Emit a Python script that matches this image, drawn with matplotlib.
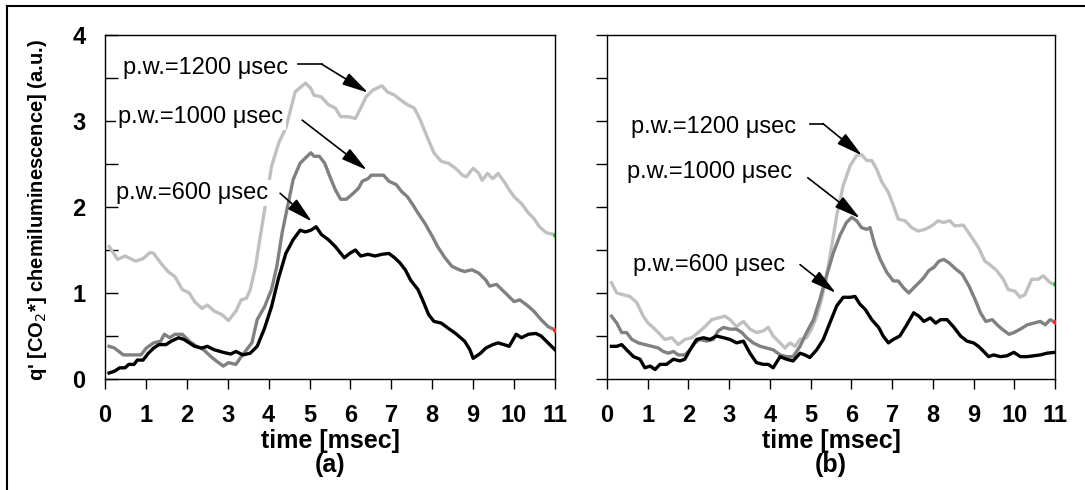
import matplotlib
matplotlib.use("Agg")
import matplotlib.pyplot as plt
from matplotlib.lines import Line2D
from matplotlib.ticker import MultipleLocator

plt.rcParams["font.family"] = ["Liberation Sans", "DejaVu Sans"]

# ---- data: time [msec] vs q' [CO2*] (a.u.) ----
# panel (a)
a_t_1200 = [0.1, 0.31, 0.49, 0.75, 0.93, 1.1, 1.19, 1.36, 1.54, 1.71, 1.89, 2.06, 2.19, 2.37, 2.5,
            2.67, 2.85, 3.02, 3.2, 3.33, 3.46, 3.55, 3.68, 3.81, 3.94, 4.07, 4.25, 4.42, 4.65, 4.9,
            5.03, 5.11, 5.29, 5.46, 5.63, 5.76, 5.94, 6.12, 6.25, 6.38, 6.55, 6.77, 6.9, 7.08, 7.21,
            7.39, 7.56, 7.69, 7.87, 8.04, 8.22, 8.39, 8.57, 8.74, 8.83, 9.0, 9.14, 9.22, 9.35, 9.48,
            9.61, 9.75, 9.88, 10.0, 10.18, 10.35, 10.48, 10.62, 10.79, 11.0]
a_q_1200 = [1.54, 1.39, 1.43, 1.37, 1.40, 1.47, 1.46, 1.35, 1.25, 1.19, 1.04, 1.0, 0.90, 0.82, 0.86,
            0.79, 0.75, 0.68, 0.79, 0.92, 0.94, 1.04, 1.31, 1.70, 2.08, 2.47, 2.75, 2.92, 3.34, 3.44,
            3.38, 3.30, 3.28, 3.19, 3.15, 3.05, 3.05, 3.03, 3.15, 3.28, 3.36, 3.41, 3.34, 3.30, 3.25,
            3.19, 3.15, 3.03, 2.82, 2.63, 2.53, 2.51, 2.45, 2.37, 2.35, 2.45, 2.39, 2.31, 2.39, 2.33,
            2.39, 2.30, 2.20, 2.12, 2.04, 1.93, 1.87, 1.77, 1.70, 1.68]

a_t_1000 = [0.1, 0.23, 0.45, 0.71, 0.88, 1.01, 1.19, 1.36, 1.45, 1.58, 1.71, 1.89, 2.06, 2.24, 2.41,
            2.59, 2.72, 2.89, 3.02, 3.2, 3.33, 3.46, 3.59, 3.72, 3.90, 4.07, 4.2, 4.33, 4.46, 4.6,
            4.77, 4.9, 5.03, 5.11, 5.24, 5.37, 5.5, 5.63, 5.76, 5.9, 6.07, 6.2, 6.29, 6.43, 6.51,
            6.64, 6.81, 6.94, 7.12, 7.25, 7.39, 7.52, 7.65, 7.82, 8.0, 8.13, 8.31, 8.48, 8.66, 8.79,
            8.97, 9.14, 9.31, 9.4, 9.57, 9.7, 9.83, 10.0, 10.14, 10.31, 10.48, 10.66, 10.83, 11.0]
a_q_1000 = [0.38, 0.36, 0.28, 0.28, 0.28, 0.36, 0.42, 0.44, 0.52, 0.48, 0.52, 0.52, 0.44, 0.38, 0.34,
            0.26, 0.21, 0.15, 0.19, 0.17, 0.26, 0.34, 0.42, 0.69, 0.84, 1.04, 1.31, 1.70, 2.0, 2.32,
            2.51, 2.57, 2.63, 2.59, 2.59, 2.51, 2.35, 2.20, 2.09, 2.09, 2.16, 2.22, 2.30, 2.33, 2.37,
            2.37, 2.37, 2.30, 2.26, 2.18, 2.12, 2.03, 1.93, 1.81, 1.66, 1.54, 1.41, 1.31, 1.27, 1.25,
            1.27, 1.23, 1.15, 1.08, 1.10, 1.04, 0.98, 0.90, 0.92, 0.86, 0.79, 0.69, 0.61, 0.57]

a_t_600 = [0.1, 0.23, 0.36, 0.49, 0.58, 0.71, 0.79, 0.93, 1.06, 1.19, 1.32, 1.49, 1.62, 1.80, 1.93,
           2.06, 2.19, 2.37, 2.5, 2.67, 2.89, 3.07, 3.2, 3.37, 3.55, 3.72, 3.90, 4.07, 4.24, 4.42,
           4.6, 4.77, 4.9, 5.03, 5.16, 5.29, 5.46, 5.63, 5.85, 5.98, 6.12, 6.25, 6.43, 6.6, 6.77,
           6.94, 7.08, 7.21, 7.34, 7.47, 7.65, 7.78, 7.91, 8.04, 8.22, 8.39, 8.57, 8.79, 8.92, 9.0,
           9.18, 9.31, 9.48, 9.61, 9.75, 9.88, 10.05, 10.18, 10.35, 10.53, 10.66, 10.83, 11.0]
a_q_600 = [0.07, 0.09, 0.13, 0.13, 0.17, 0.17, 0.22, 0.22, 0.30, 0.36, 0.40, 0.40, 0.44, 0.48, 0.46,
           0.42, 0.38, 0.36, 0.38, 0.34, 0.31, 0.29, 0.32, 0.28, 0.30, 0.38, 0.59, 0.84, 1.17, 1.46,
           1.62, 1.73, 1.71, 1.73, 1.77, 1.68, 1.62, 1.54, 1.41, 1.46, 1.50, 1.43, 1.45, 1.43, 1.45,
           1.46, 1.41, 1.35, 1.27, 1.15, 1.04, 0.90, 0.75, 0.67, 0.65, 0.59, 0.53, 0.44, 0.34, 0.24,
           0.30, 0.36, 0.40, 0.42, 0.40, 0.38, 0.52, 0.48, 0.52, 0.53, 0.50, 0.42, 0.34]

# panel (b)
b_t_1200 = [0.11, 0.24, 0.40, 0.56, 0.73, 0.89, 1.01, 1.13, 1.30, 1.42, 1.59, 1.75, 1.91, 2.08, 2.24,
            2.41, 2.57, 2.73, 2.90, 3.02, 3.18, 3.35, 3.51, 3.67, 3.84, 3.96, 4.08, 4.25, 4.37, 4.49,
            4.62, 4.74, 4.90, 5.02, 5.15, 5.27, 5.39, 5.52, 5.64, 5.80, 5.97, 6.13, 6.25, 6.38, 6.50,
            6.62, 6.75, 6.91, 7.03, 7.15, 7.32, 7.48, 7.64, 7.81, 7.97, 8.13, 8.26, 8.42, 8.54, 8.75,
            8.91, 9.12, 9.28, 9.40, 9.57, 9.73, 9.85, 10.02, 10.14, 10.26, 10.43, 10.59, 10.71, 10.88, 11.0]
b_q_1200 = [1.12, 1.0, 0.98, 0.96, 0.89, 0.73, 0.65, 0.60, 0.52, 0.46, 0.48, 0.40, 0.46, 0.48, 0.54,
            0.61, 0.69, 0.71, 0.73, 0.69, 0.61, 0.67, 0.58, 0.54, 0.56, 0.60, 0.50, 0.42, 0.36, 0.42,
            0.38, 0.46, 0.48, 0.58, 0.73, 0.93, 1.20, 1.55, 1.90, 2.25, 2.48, 2.60, 2.61, 2.54, 2.54,
            2.44, 2.29, 2.17, 2.02, 1.86, 1.84, 1.76, 1.72, 1.74, 1.78, 1.84, 1.82, 1.84, 1.78, 1.79,
            1.68, 1.53, 1.37, 1.33, 1.26, 1.16, 1.04, 1.02, 0.95, 0.98, 1.16, 1.16, 1.20, 1.12, 1.10]

b_t_1000 = [0.11, 0.24, 0.36, 0.48, 0.61, 0.77, 0.93, 1.10, 1.26, 1.38, 1.51, 1.63, 1.75, 1.91, 2.04,
            2.16, 2.28, 2.45, 2.61, 2.73, 2.86, 3.02, 3.18, 3.31, 3.43, 3.59, 3.76, 3.92, 4.08, 4.25,
            4.41, 4.57, 4.74, 4.90, 5.07, 5.23, 5.39, 5.56, 5.72, 5.88, 6.01, 6.13, 6.25, 6.38, 6.46,
            6.58, 6.71, 6.87, 7.03, 7.15, 7.28, 7.41, 7.53, 7.66, 7.78, 7.90, 8.03, 8.15, 8.27, 8.40,
            8.56, 8.72, 8.89, 9.05, 9.17, 9.30, 9.46, 9.58, 9.70, 9.87, 9.99, 10.15, 10.32, 10.48, 10.64,
            10.76, 10.88, 11.0]
b_q_1000 = [0.73, 0.65, 0.54, 0.54, 0.46, 0.42, 0.40, 0.38, 0.36, 0.32, 0.30, 0.32, 0.28, 0.28, 0.34,
            0.42, 0.46, 0.44, 0.46, 0.56, 0.60, 0.58, 0.58, 0.54, 0.48, 0.42, 0.38, 0.36, 0.34, 0.28,
            0.26, 0.26, 0.38, 0.54, 0.69, 0.93, 1.20, 1.47, 1.67, 1.82, 1.88, 1.84, 1.76, 1.74, 1.76,
            1.55, 1.39, 1.24, 1.14, 1.14, 1.06, 1.00, 1.06, 1.12, 1.18, 1.26, 1.30, 1.37, 1.39, 1.35,
            1.28, 1.22, 1.08, 0.91, 0.77, 0.67, 0.69, 0.63, 0.58, 0.52, 0.54, 0.58, 0.63, 0.65, 0.67,
            0.63, 0.69, 0.66]

b_t_600 = [0.11, 0.24, 0.36, 0.48, 0.65, 0.81, 0.93, 1.06, 1.18, 1.30, 1.46, 1.63, 1.79, 1.91, 2.04,
           2.20, 2.37, 2.53, 2.69, 2.86, 3.02, 3.18, 3.35, 3.51, 3.67, 3.84, 3.96, 4.08, 4.25, 4.41,
           4.57, 4.74, 4.86, 4.98, 5.15, 5.31, 5.47, 5.64, 5.80, 5.97, 6.09, 6.21, 6.34, 6.50, 6.67,
           6.78, 6.91, 7.03, 7.19, 7.36, 7.53, 7.66, 7.78, 7.94, 8.07, 8.19, 8.35, 8.52, 8.68, 8.84,
           9.00, 9.12, 9.25, 9.37, 9.49, 9.66, 9.82, 9.99, 10.15, 10.32, 10.48, 10.64, 10.80, 11.0]
b_q_600 = [0.38, 0.38, 0.40, 0.34, 0.26, 0.23, 0.13, 0.15, 0.11, 0.17, 0.17, 0.23, 0.21, 0.23, 0.34,
           0.46, 0.48, 0.46, 0.50, 0.48, 0.46, 0.42, 0.44, 0.30, 0.19, 0.17, 0.17, 0.13, 0.26, 0.23,
           0.21, 0.30, 0.28, 0.25, 0.34, 0.46, 0.65, 0.85, 0.95, 0.95, 0.96, 0.87, 0.81, 0.69, 0.60,
           0.50, 0.42, 0.46, 0.50, 0.63, 0.77, 0.73, 0.67, 0.71, 0.65, 0.69, 0.69, 0.60, 0.50, 0.44,
           0.42, 0.38, 0.32, 0.26, 0.28, 0.26, 0.27, 0.31, 0.26, 0.26, 0.27, 0.28, 0.30, 0.31]

x_ticks = list(range(12))
y_ticks = [0, 1, 2, 3, 4]
labels = ["p.w.=1200 \u03bcsec", "p.w.=1000 \u03bcsec", "p.w.=600 \u03bcsec"]

W, H = 1085, 490
fig = plt.figure(figsize=(W / 100, H / 100), dpi=100)

# frame around the figure (only top/left survive the crop)
fig.add_artist(Line2D([7 / W, 1], [1 - 6 / H, 1 - 6 / H], transform=fig.transFigure, color="black", lw=1.5))
fig.add_artist(Line2D([7 / W, 7 / W], [0, 1 - 6 / H], transform=fig.transFigure, color="black", lw=1.5))

ax_a = fig.add_axes([105 / W, 1 - 379 / H, 450 / W, 344 / H])
ax_b = fig.add_axes([607 / W, 1 - 379 / H, 448 / W, 344 / H])


def draw_curves(ax, t6, q6, t10, q10, t12, q12):
    ax.plot(t12, q12, color="#c0c0c0", lw=2.4, marker="o", markevery=[-1], ms=2.5,
            mfc="#00e000", mec="#00e000", zorder=2)
    ax.plot(t10, q10, color="#808080", lw=2.4, marker="o", markevery=[-1], ms=2.5,
            mfc="#ff2020", mec="#ff2020", zorder=3)
    ax.plot(t6, q6, color="black", lw=2.4, zorder=4)


def label_arrow(ax, text, txt, start, end, elbow=None):
    ax.text(txt[0], txt[1], text, fontsize=17, ha="left", va="center", zorder=5,
            bbox=dict(fc="white", ec="none", pad=1.5))
    if elbow is not None:
        ax.plot([elbow[0], start[0]], [elbow[1], start[1]], color="black", lw=1.2, zorder=6)
    ax.annotate("", xy=end, xytext=start, zorder=6,
                arrowprops=dict(arrowstyle="-|>,head_length=0.8,head_width=0.2", color="black",
                                lw=1.2, mutation_scale=20, shrinkA=0, shrinkB=0))


def style_axes(ax, left_labels):
    ax.set_xlim(0, 11)
    ax.set_ylim(0, 4)
    for s in ax.spines.values():
        s.set_linewidth(1.0)
    ax.set_xticks(x_ticks)
    ax.set_xticklabels([str(v) for v in x_ticks], fontsize=17, fontweight="bold")
    ax.tick_params(axis="x", direction="out", length=7, width=1, pad=11)
    ax.set_yticks(y_ticks)
    ax.yaxis.set_minor_locator(MultipleLocator(0.5))
    if left_labels:
        ax.set_yticklabels([str(v) for v in y_ticks], fontsize=17, fontweight="bold")
        ax.tick_params(axis="y", which="both", direction="in", length=9, width=1, pad=14)
    else:
        ax.set_yticklabels([])
        ax.tick_params(axis="y", which="both", direction="out", length=8, width=1)


draw_curves(ax_a, a_t_600, a_q_600, a_t_1000, a_q_1000, a_t_1200, a_q_1200)
draw_curves(ax_b, b_t_600, b_q_600, b_t_1000, b_q_1000, b_t_1200, b_q_1200)
style_axes(ax_a, True)
style_axes(ax_b, False)

label_arrow(ax_a, labels[0], (0.45, 3.62), (5.30, 3.66), (6.43, 3.33), elbow=(4.72, 3.66))
label_arrow(ax_a, labels[1], (0.33, 3.05), (4.82, 3.01), (6.40, 2.43))
label_arrow(ax_a, labels[2], (0.28, 2.16), (4.28, 2.16), (5.06, 1.83))

label_arrow(ax_b, labels[0], (0.60, 2.93), (5.30, 2.97), (6.26, 2.60), elbow=(4.98, 2.97))
label_arrow(ax_b, labels[1], (0.50, 2.41), (4.93, 2.34), (6.21, 1.87))
label_arrow(ax_b, labels[2], (0.65, 1.33), (4.74, 1.33), (5.62, 1.00))

for ax, tag in ((ax_a, "(a)"), (ax_b, "(b)")):
    ax.text(0.5, -0.18, "time [msec]", transform=ax.transAxes, ha="center", va="center",
            fontsize=18, fontweight="bold")
    ax.text(0.5, -0.25, tag, transform=ax.transAxes, ha="center", va="center",
            fontsize=18, fontweight="bold")

ax_a.text(-0.149, 0.491, "q' [CO$_2$*] chemiluminescence] (a.u.)", transform=ax_a.transAxes,
          rotation=90, ha="center", va="center", fontsize=14.5, fontweight="bold")

fig.savefig("out.png", dpi=100)
